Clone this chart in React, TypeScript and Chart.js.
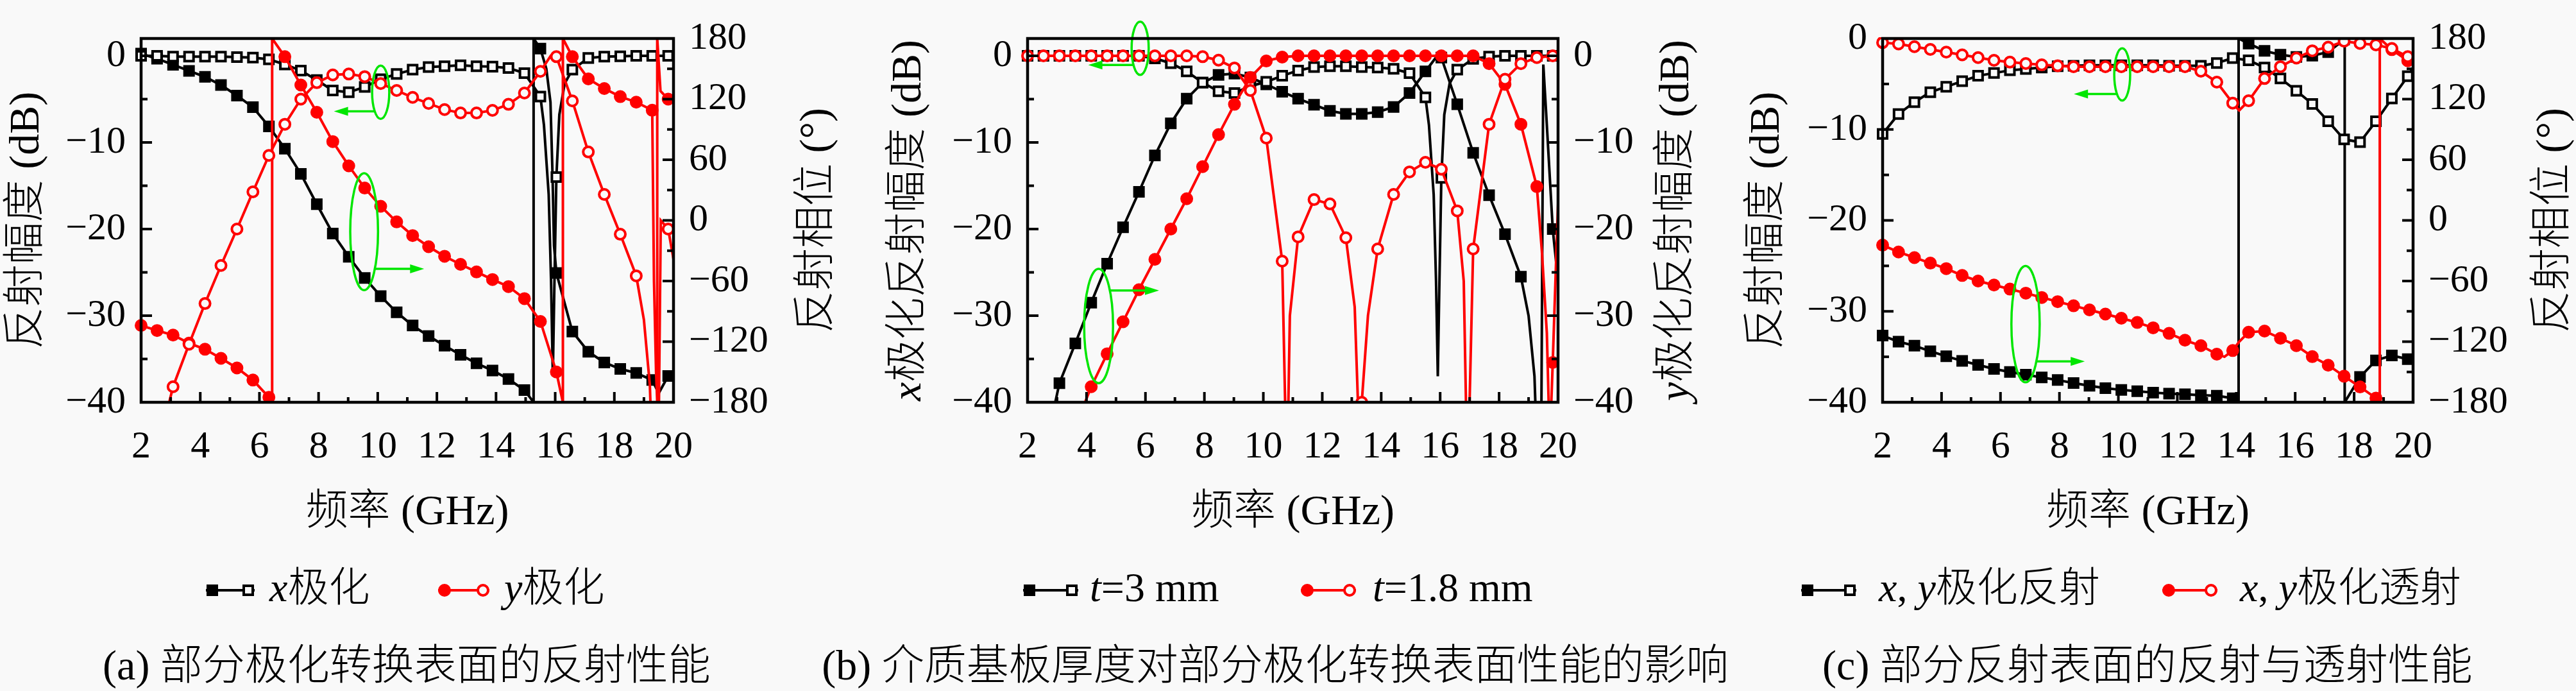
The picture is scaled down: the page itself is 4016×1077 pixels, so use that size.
import { useEffect, useRef } from "react"
import { Chart, registerables } from "chart.js"

Chart.register(...registerables)

const BG = "#f9f9f9"
const RED = "#ff0000"
const BLACK = "#000000"
const GREEN = "#00e600"
const SERIF = '"Liberation Serif", "Noto Sans CJK SC", serif'

const CANVAS_H = 975
const PLOT_TOP = 35
const PLOT_BOTTOM = 627
const TICK_FONT = 60
const TITLE_FONT = 66
const LEGEND_FONT = 64
const CAPTION_FONT = 66
const XTITLE_Y = 800
const LEGEND_Y = 920
const LINE_W = 4
const MARK_W = 4

// marker frequencies (GHz), shared by every curve
const FREQ = [2.0, 2.54, 3.08, 3.62, 4.16, 4.7, 5.24, 5.78, 6.32, 6.86, 7.4, 7.94, 8.48, 9.02, 9.56, 10.1, 10.64, 11.18, 11.72, 12.26, 12.8, 13.34, 13.88, 14.42, 14.96, 15.5, 16.04, 16.58, 17.12, 17.66, 18.2, 18.74, 19.28, 19.82]

// (a) x / y polarisation: amplitude (dB) and phase (deg)
const A_X_AMP = [0, 0, -0.1, -0.1, -0.1, -0.1, -0.15, -0.2, -0.4, -1.0, -1.7, -2.8, -4.0, -4.2, -3.6, -2.7, -2.1, -1.6, -1.3, -1.2, -1.1, -1.2, -1.25, -1.4, -2.0, -4.7, -14, -1.6, -0.25, -0.1, -0.05, 0, 0, 0]
const A_X_AMP_EXTRA = [[15.62, -8], [15.78, -16], [15.86, -26], [15.92, -37], [15.97, -27], [16.14, -6.8], [16.32, -3.2], [20, 0]]
const A_X_PHASE = [165, 160, 154, 148, 142, 134, 123.5, 112, 93, 71, 46, 16, -13, -36, -57, -75, -91, -104, -114.5, -124, -133, -141.5, -148.5, -157, -168, 170, -52, -110, -130, -140.6, -147, -151, -158, -154]
const A_X_PHASE_EXTRA = [[15.27, -180], [15.27, 180], [15.7, 150], [15.84, 117], [15.91, 45], [15.96, -25], [19.5, -171], [20, -152]]
const A_Y_AMP = [null, null, -38.2, -33.3, -28.6, -24.2, -20, -15.7, -11.5, -7.9, -5, -3.1, -2.2, -2.1, -2.4, -3.2, -4.0, -4.8, -5.5, -6.2, -6.6, -6.6, -6.3, -5.6, -4.3, -1.8, -0.1, -5.2, -11.1, -16, -20.6, -25.4, -46, -20]
const A_Y_AMP_EXTRA = [[2.95, -40], [15.85, 0], [19.0, -30.5], [19.2, -38], [19.45, -60], [19.57, -19], [20, -23.5]]
const A_Y_PHASE = [-104, -109, -113.5, -121.5, -127.5, -136.5, -146, -158, -175, 162, 134, 107, 78, 54, 32, 14, -1.5, -15, -26, -35.5, -43.5, -51, -58.5, -65.5, -77.4, -100, -150, 162, 140, 130.5, 122.5, 117, 109, 120]
const A_Y_PHASE_EXTRA = [[6.43, -180], [6.43, 180], [16.26, -180], [16.26, 180], [19.34, -60], [19.41, -150], [19.45, -180], [19.45, 180], [19.56, 128], [20, 119]]

// (b) substrate thickness: x-pol (left axis) and y-pol (right axis) amplitude, dB
const B_X3 = [0, 0, 0, 0, 0, 0, 0, 0, -0.3, -0.85, -1.8, -3.1, -4.1, -4.3, -3.5, -3.0, -2.3, -1.7, -1.3, -1.2, -1.2, -1.3, -1.35, -1.5, -2.0, -4.8, -14.1, -1.6, -0.35, -0.1, 0, 0, 0, 0]
const B_X3_EXTRA = [[15.62, -8], [15.78, -16], [15.86, -26], [15.92, -37], [15.97, -27], [16.14, -6.8], [16.32, -3.2], [20, 0]]
const B_Y3 = [null, null, -37.8, -33.2, -28.5, -24.0, -19.8, -15.7, -11.5, -7.8, -4.95, -3.1, -2.2, -2.05, -2.5, -3.3, -4.15, -4.95, -5.65, -6.35, -6.7, -6.7, -6.5, -5.9, -4.3, -1.8, -0.2, -5.6, -11.2, -16.1, -20.6, -25.5, -45, -20]
const B_Y3_EXTRA = [[2.94, -40], [15.9, 0], [19.0, -30], [19.2, -37], [19.42, -50], [19.5, -1], [19.6, -6.8], [20, -26]]
const B_X18 = [0, 0, 0, 0, 0, 0, 0, 0, 0, 0, 0, -0.1, -0.5, -1.4, -4.0, -9.5, -23.7, -20.9, -16.6, -17.1, -21, -40, -22.3, -16, -13.4, -12.3, -13.1, -17.9, -22.3, -7.9, -2.7, -0.9, -0.2, 0]
const B_X18_EXTRA = [[10.8, -50], [10.9, -30], [13.1, -29], [13.25, -44], [13.55, -30], [16.8, -26], [16.93, -50], [20, 0]]
const B_Y18 = [null, null, null, null, -38.2, -34.4, -30.7, -27.0, -23.5, -20.0, -16.5, -12.8, -9.1, -5.6, -2.5, -0.6, -0.15, 0, 0, 0, 0, 0, 0, 0, 0, 0, 0, 0, 0, -0.9, -3.3, -7.9, -15.1, -35.4]
const B_Y18_EXTRA = [[3.95, -40], [19.45, -22.5], [19.62, -32], [19.72, -45], [19.96, -21], [20, -17]]

// (c) partially reflecting surface: reflection / transmission amplitude (dB) and phase (deg)
const C_RA = [-10.5, -8.3, -7.0, -5.9, -5.3, -4.7, -4.1, -3.8, -3.5, -3.35, -3.2, -3.05, -3.0, -2.95, -2.95, -2.95, -2.95, -2.95, -3.0, -3.0, -3.0, -2.7, -2.15, -2.4, -3.2, -4.4, -5.75, -7.2, -9.1, -11.1, -11.4, -9.1, -6.6, -4.15]
const C_RA_EXTRA = [[20, -3.2]]
const C_TA = [-0.45, -0.6, -0.9, -1.2, -1.5, -1.8, -2.1, -2.4, -2.6, -2.75, -2.9, -3.0, -3.1, -3.1, -3.1, -3.1, -3.1, -3.1, -3.1, -3.1, -3.6, -4.8, -7.1, -6.85, -4.4, -3.1, -2.15, -1.35, -0.95, -0.3, -0.55, -0.7, -1.1, -2.0]
const C_TA_EXTRA = [[14.1, -7.9], [20, -2.5]]
const C_RP = [-114, -120, -124, -129.5, -134.5, -139, -143, -147, -150, -152.7, -155.4, -158, -161, -163.6, -166, -167.7, -169, -170.4, -171.5, -172, -173, -173.5, -176, 175, 167.7, 164, 161.7, 163, 166.5, 179, -155, -138.5, -133.7, -137.3]
const C_RP_EXTRA = [[14.08, -180], [14.08, 180], [17.68, 180], [17.68, -180], [20, -138]]
const C_TP = [-24.5, -31.3, -36.8, -42.3, -47.7, -54.5, -60, -64, -68, -72, -76.3, -80.4, -84.5, -88.6, -92.7, -96.8, -101, -106.3, -111.8, -118.6, -124, -132.4, -128.8, -110.7, -109.5, -116.7, -124, -134.8, -143.3, -154.2, -164.8, -175.8, 169, 158]
const C_TP_EXTRA = [[13.6, -135], [14.1, -120], [18.87, -180], [18.87, 180], [20, 154.7]]

const CAPTIONS = [
  { x: 634, text: "(a) 部分极化转换表面的反射性能" },
  { x: 1988, text: "(b) 介质基板厚度对部分极化转换表面性能的影响" },
  { x: 3348, text: "(c) 部分反射表面的反射与透射性能" },
]

type Seg = [string, boolean?]

const font = (size: number, italic?: boolean) => `${italic ? "italic " : ""}300 ${size}px ${SERIF}`
const minus = (v: number) => (v < 0 ? "\u2212" + Math.abs(v) : String(v))

function points(values: (number | null)[], extra: number[][]) {
  const pts: { x: number; y: number; m: boolean }[] = []
  values.forEach((v, i) => {
    if (v !== null) pts.push({ x: FREQ[i], y: v, m: true })
  })
  extra.forEach(([x, y]) => pts.push({ x, y, m: false }))
  return pts.sort((a, b) => a.x - b.x)
}

function richWidth(ctx: CanvasRenderingContext2D, segs: Seg[], size: number) {
  let w = 0
  for (const [t, it] of segs) {
    ctx.font = font(size, it)
    w += ctx.measureText(t).width
  }
  return w
}

function drawRich(ctx: CanvasRenderingContext2D, segs: Seg[], size: number, x: number, y: number, center: boolean) {
  let cx = center ? x - richWidth(ctx, segs, size) / 2 : x
  ctx.textAlign = "left"
  ctx.textBaseline = "middle"
  ctx.fillStyle = BLACK
  for (const [t, it] of segs) {
    ctx.font = font(size, it)
    ctx.fillText(t, cx, y)
    cx += ctx.measureText(t).width
  }
}

function marker(ctx: CanvasRenderingContext2D, shape: string, x: number, y: number, color: string, filled: boolean) {
  ctx.beginPath()
  if (shape === "rect") ctx.rect(x - 7, y - 7, 14, 14)
  else ctx.arc(x, y, 8, 0, Math.PI * 2)
  ctx.fillStyle = filled ? color : BG
  ctx.fill()
  ctx.lineWidth = MARK_W
  ctx.strokeStyle = color
  ctx.stroke()
}

const figurePlugin = {
  id: "fig",
  afterDraw(chart: any, _args: any, o: any) {
    const ctx: CanvasRenderingContext2D = chart.ctx
    const { left, right, top, bottom } = chart.chartArea
    const xs = chart.scales.x
    const yl = chart.scales.yL
    const yr = chart.scales.yR
    const line = (x1: number, y1: number, x2: number, y2: number) => {
      ctx.beginPath()
      ctx.moveTo(x1, y1)
      ctx.lineTo(x2, y2)
      ctx.stroke()
    }
    ctx.save()

    // green ellipses and arrows
    ctx.strokeStyle = GREEN
    ctx.fillStyle = GREEN
    ctx.lineWidth = 3.5
    for (const n of o.notes) {
      const cx = xs.getPixelForValue(n.cx)
      const cy = yl.getPixelForValue(n.cy)
      const rx = Math.abs(xs.getPixelForValue(n.cx + n.rx) - cx)
      const ry = Math.abs(yl.getPixelForValue(n.cy + n.ry) - cy)
      ctx.beginPath()
      ctx.ellipse(cx, cy, rx, ry, 0, 0, Math.PI * 2)
      ctx.stroke()
      const x0 = xs.getPixelForValue(n.from)
      const x1 = xs.getPixelForValue(n.to)
      const y = yl.getPixelForValue(n.ay)
      const d = Math.sign(x1 - x0)
      line(x0, y, x1 - d * 20, y)
      ctx.beginPath()
      ctx.moveTo(x1, y)
      ctx.lineTo(x1 - d * 22, y - 7)
      ctx.lineTo(x1 - d * 22, y + 7)
      ctx.closePath()
      ctx.fill()
    }

    // frame and inward ticks
    ctx.strokeStyle = BLACK
    ctx.lineWidth = 4.5
    ctx.strokeRect(left, top, right - left, bottom - top)
    ctx.lineWidth = 4
    for (let v = 2; v <= 20; v++) {
      const p = xs.getPixelForValue(v)
      line(p, bottom, p, bottom - (v % 2 === 0 ? 16 : 8))
    }
    for (let v = o.yL.lo; v <= o.yL.hi; v += o.yL.minor) {
      const p = yl.getPixelForValue(v)
      line(left, p, left + (v % o.yL.step === 0 ? 17 : 10), p)
    }
    for (let v = o.yR.lo; v <= o.yR.hi; v += o.yR.minor) {
      const p = yr.getPixelForValue(v)
      line(right, p, right - (v % o.yR.step === 0 ? 17 : 10), p)
    }

    // axis titles
    const mid = (top + bottom) / 2
    for (const [segs, x] of [[o.leftTitle, o.leftX], [o.rightTitle, o.rightX]]) {
      ctx.save()
      ctx.translate(x, mid)
      ctx.rotate(-Math.PI / 2)
      drawRich(ctx, segs, TITLE_FONT, 0, 0, true)
      ctx.restore()
    }
    drawRich(ctx, [["频率 (GHz)"]], TITLE_FONT, (left + right) / 2, XTITLE_Y, true)

    // legend
    for (const it of o.legend) {
      ctx.strokeStyle = it.color
      ctx.lineWidth = LINE_W
      line(it.x0, LEGEND_Y, it.x0 + it.len, LEGEND_Y)
      marker(ctx, it.shape, it.x0 + 10, LEGEND_Y, it.color, true)
      marker(ctx, it.shape, it.x0 + it.len - 10, LEGEND_Y, it.color, false)
      drawRich(ctx, it.text, LEGEND_FONT, it.tx, LEGEND_Y, false)
    }
    ctx.restore()
  },
}

const DB_AXIS = { min: -40, max: 2, step: 10, minor: 5, lo: -40, hi: 0 }
const PHASE_AXIS = { min: -180, max: 180, step: 60, minor: 30, lo: -180, hi: 180 }

const PANELS = [
  {
    left: 0, width: 1330, axisL: 220, axisR: 280,
    yL: DB_AXIS, yR: PHASE_AXIS,
    series: [
      { values: A_Y_AMP, extra: A_Y_AMP_EXTRA, color: RED, shape: "circle", filled: false, axis: "yL" },
      { values: A_Y_PHASE, extra: A_Y_PHASE_EXTRA, color: RED, shape: "circle", filled: true, axis: "yR" },
      { values: A_X_AMP, extra: A_X_AMP_EXTRA, color: BLACK, shape: "rect", filled: false, axis: "yL" },
      { values: A_X_PHASE, extra: A_X_PHASE_EXTRA, color: BLACK, shape: "rect", filled: true, axis: "yR" },
    ],
    leftTitle: [["反射幅度 (dB)"]], leftX: 43,
    rightTitle: [["反射相位 (°)"]], rightX: 1275,
    legend: [
      { x0: 321, len: 76, tx: 420, color: BLACK, shape: "rect", text: [["x", true], ["极化"]] },
      { x0: 683, len: 80, tx: 786, color: RED, shape: "circle", text: [["y", true], ["极化"]] },
    ],
    notes: [
      { cx: 10.1, cy: -4.2, rx: 0.29, ry: 3.07, ay: -6.4, from: 9.9, to: 8.52 },
      { cx: 9.54, cy: -20.3, rx: 0.47, ry: 6.75, ay: -24.6, from: 9.9, to: 11.57 },
    ],
  },
  {
    left: 1330, width: 1320, axisL: 272, axisR: 221,
    yL: DB_AXIS, yR: DB_AXIS,
    series: [
      { values: B_X18, extra: B_X18_EXTRA, color: RED, shape: "circle", filled: false, axis: "yL" },
      { values: B_Y18, extra: B_Y18_EXTRA, color: RED, shape: "circle", filled: true, axis: "yR" },
      { values: B_X3, extra: B_X3_EXTRA, color: BLACK, shape: "rect", filled: false, axis: "yL" },
      { values: B_Y3, extra: B_Y3_EXTRA, color: BLACK, shape: "rect", filled: true, axis: "yR" },
    ],
    leftTitle: [["x", true], ["极化反射幅度 (dB)"]], leftX: 88,
    rightTitle: [["y", true], ["极化反射幅度 (dB)"]], rightX: 1285,
    legend: [
      { x0: 265, len: 86, tx: 369, color: BLACK, shape: "rect", text: [["t", true], ["=3 mm"]] },
      { x0: 698, len: 86, tx: 810, color: RED, shape: "circle", text: [["t", true], ["=1.8 mm"]] },
    ],
    notes: [
      { cx: 5.82, cy: 0.87, rx: 0.29, ry: 3.08, ay: -1.05, from: 5.59, to: 4.06 },
      { cx: 4.41, cy: -31.2, rx: 0.49, ry: 6.6, ay: -27.1, from: 4.79, to: 6.46 },
    ],
  },
  {
    left: 2660, width: 1356, axisL: 275, axisR: 254,
    yL: { min: -40, max: 0, step: 10, minor: 5, lo: -40, hi: 0 }, yR: PHASE_AXIS,
    series: [
      { values: C_TA, extra: C_TA_EXTRA, color: RED, shape: "circle", filled: false, axis: "yL" },
      { values: C_TP, extra: C_TP_EXTRA, color: RED, shape: "circle", filled: true, axis: "yR" },
      { values: C_RA, extra: C_RA_EXTRA, color: BLACK, shape: "rect", filled: false, axis: "yL" },
      { values: C_RP, extra: C_RP_EXTRA, color: BLACK, shape: "rect", filled: true, axis: "yR" },
    ],
    leftTitle: [["反射幅度 (dB)"]], leftX: 96,
    rightTitle: [["反射相位 (°)"]], rightX: 1322,
    legend: [
      { x0: 148, len: 86, tx: 269, color: BLACK, shape: "rect", text: [["x", true], [", "], ["y", true], ["极化反射"]] },
      { x0: 711, len: 86, tx: 832, color: RED, shape: "circle", text: [["x", true], [", "], ["y", true], ["极化透射"]] },
    ],
    notes: [
      { cx: 10.13, cy: -3.95, rx: 0.27, ry: 2.88, ay: -6.1, from: 9.95, to: 8.49 },
      { cx: 6.85, cy: -31.4, rx: 0.48, ry: 6.4, ay: -35.5, from: 7.22, to: 8.86 },
    ],
  },
]

function yScale(position: string, ax: any, width: number) {
  return {
    type: "linear",
    position,
    min: ax.min,
    max: ax.max,
    afterFit: (s: any) => {
      s.width = width
    },
    grid: { display: false, drawTicks: false },
    border: { display: false },
    ticks: {
      stepSize: ax.step,
      includeBounds: false,
      padding: 24,
      color: BLACK,
      font: { family: SERIF, size: TICK_FONT },
      callback: (v: number) => minus(v),
    },
  }
}

function Panel({ cfg }: { cfg: any }) {
  const ref = useRef<HTMLCanvasElement>(null)

  useEffect(() => {
    if (!ref.current) return
    const chart = new Chart(ref.current, {
      type: "line",
      data: {
        datasets: cfg.series.map((s: any) => ({
          data: points(s.values, s.extra),
          yAxisID: s.axis,
          borderColor: s.color,
          borderWidth: LINE_W,
          tension: 0,
          fill: false,
          clip: { left: 14, right: 14, top: 2, bottom: 2 },
          pointStyle: s.shape,
          pointRadius: (c: any) => (c.raw && c.raw.m ? (s.shape === "rect" ? 9.9 : 8) : 0),
          pointHoverRadius: 0,
          pointBackgroundColor: s.filled ? s.color : BG,
          pointBorderColor: s.color,
          pointBorderWidth: MARK_W,
        })),
      },
      options: {
        animation: false,
        responsive: false,
        devicePixelRatio: 1,
        events: [],
        layout: { padding: { top: PLOT_TOP, left: 0, right: 0, bottom: 0 } },
        plugins: {
          legend: { display: false },
          tooltip: { enabled: false },
          fig: cfg,
        },
        scales: {
          x: {
            type: "linear",
            position: "bottom",
            min: 2,
            max: 20,
            afterFit: (s: any) => {
              s.height = CANVAS_H - PLOT_BOTTOM
            },
            grid: { display: false, drawTicks: false },
            border: { display: false },
            ticks: {
              stepSize: 2,
              autoSkip: false,
              maxRotation: 0,
              padding: 34,
              color: BLACK,
              font: { family: SERIF, size: TICK_FONT },
            },
          },
          yL: yScale("left", cfg.yL, cfg.axisL),
          yR: yScale("right", cfg.yR, cfg.axisR),
        },
      } as any,
      plugins: [figurePlugin],
    })
    return () => chart.destroy()
  }, [cfg])

  return (
    <canvas
      ref={ref}
      width={cfg.width}
      height={CANVAS_H}
      style={{ position: "absolute", left: cfg.left, top: 0, width: cfg.width, height: CANVAS_H }}
    />
  )
}

export default function App() {
  useEffect(() => {
    document.documentElement.style.overflow = "hidden"
    document.body.style.background = BG
  }, [])

  return (
    <div style={{ position: "absolute", left: 0, top: 0, width: 4016, height: 1077, background: BG, overflow: "hidden" }}>
      {PANELS.map((p, i) => (
        <Panel key={i} cfg={p} />
      ))}
      {CAPTIONS.map((c) => (
        <div
          key={c.text}
          style={{
            position: "absolute",
            left: c.x - 1000,
            top: 1000,
            width: 2000,
            textAlign: "center",
            fontFamily: SERIF,
            fontWeight: 300,
            fontSize: CAPTION_FONT,
            lineHeight: "74px",
            color: BLACK,
            whiteSpace: "nowrap",
          }}
        >
          {c.text}
        </div>
      ))}
    </div>
  )
}
